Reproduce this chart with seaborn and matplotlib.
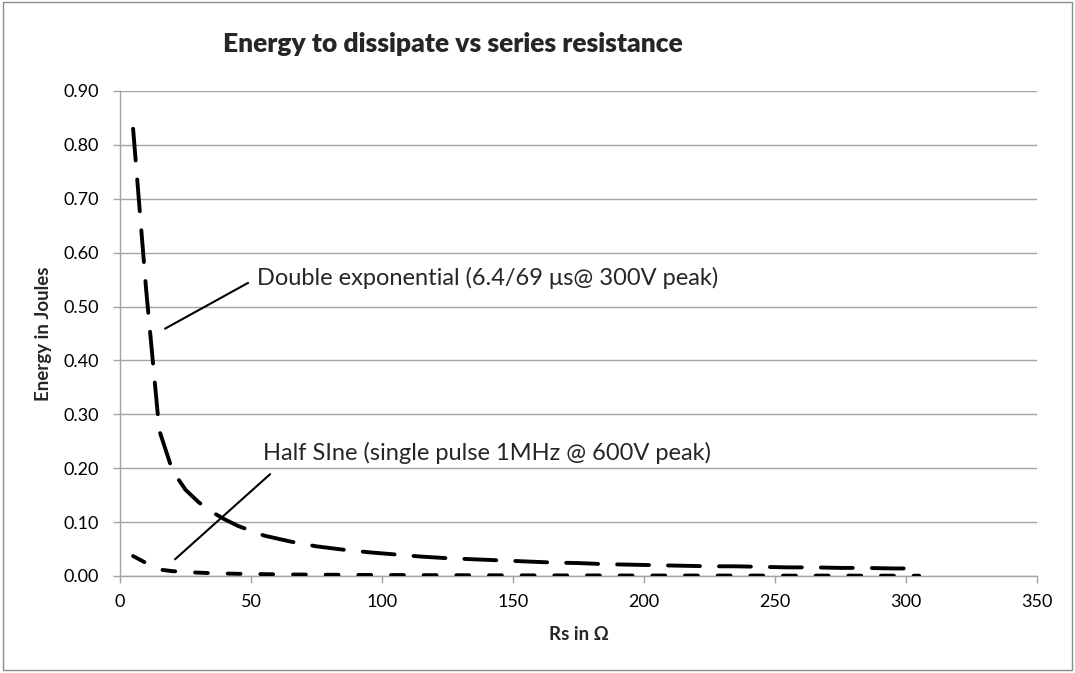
import matplotlib
matplotlib.use("Agg")
import matplotlib.pyplot as plt
import seaborn as sns
import pandas as pd
from matplotlib.patches import Rectangle

# ---- data ----
rs_ohm = [5, 10, 15, 20, 25, 30, 35, 40, 45, 55, 65, 75, 85, 95, 105, 115, 125, 135, 145, 155,
          165, 175, 185, 195, 205, 215, 225, 235, 245, 255, 265, 275, 285, 295, 305]
double_exp = [0.830, 0.530, 0.270, 0.196, 0.160, 0.137, 0.119, 0.105, 0.093, 0.075,
              0.064, 0.055, 0.049, 0.044,
              0.040, 0.036, 0.033, 0.031, 0.029, 0.027, 0.025, 0.024, 0.022, 0.021,
              0.020, 0.019, 0.018, 0.018, 0.017, 0.016, 0.016, 0.015, 0.015, 0.014, 0.014]
half_sine = [0.0370, 0.0240, 0.0120, 0.0090, 0.0074, 0.0062, 0.0053, 0.0046, 0.0041,
             0.0034, 0.0028, 0.0025, 0.0022,
             0.0019, 0.0018, 0.0016, 0.0015, 0.0014, 0.0013, 0.0012, 0.0011, 0.0011,
             0.0010, 0.0009, 0.0009, 0.0009, 0.0008, 0.0008, 0.0008, 0.0007, 0.0007,
             0.0007, 0.0006, 0.0006, 0.0006]
series_names = ["Double exponential", "Half sine"]
x_ticks = [0, 50, 100, 150, 200, 250, 300, 350]
y_ticks = [0.0, 0.1, 0.2, 0.3, 0.4, 0.5, 0.6, 0.7, 0.8, 0.9]

df = pd.concat([
    pd.DataFrame({"Rs": rs_ohm, "Energy": double_exp, "series": series_names[0]}),
    pd.DataFrame({"Rs": rs_ohm, "Energy": half_sine, "series": series_names[1]}),
], ignore_index=True)

sns.set_style("white")
plt.rcParams["font.family"] = ["Lato", "DejaVu Sans"]
plt.rcParams["lines.dash_capstyle"] = "round"
plt.rcParams["lines.solid_capstyle"] = "round"
plt.rcParams["lines.solid_joinstyle"] = "round"
plt.rcParams["lines.dash_joinstyle"] = "round"

W, H = 1075, 673
fig = plt.figure(figsize=(W / 100, H / 100), dpi=100)
L, R, T, B = 120, 1037, 91, 576
ax = fig.add_axes([L / W, 1 - B / H, (R - L) / W, (B - T) / H])

grid_c = "#a3a3a3"
sns.lineplot(data=df, x="Rs", y="Energy", hue="series", style="series",
             palette={series_names[0]: "black", series_names[1]: "black"},
             dashes={series_names[0]: (8.2, 4.9), series_names[1]: (3.3, 5.1)},
             linewidth=2.8, legend=False, ax=ax, zorder=3)

ax.set_xlim(0, 350)
ax.set_ylim(0, 0.9)
ax.set_xticks(x_ticks)
ax.set_yticks(y_ticks)
ax.set_yticklabels([f"{v:.2f}" for v in y_ticks])
ax.yaxis.grid(True, color=grid_c, lw=1.0)
ax.xaxis.grid(False)
for s in ["top", "right"]:
    ax.spines[s].set_visible(False)
for s in ["left", "bottom"]:
    ax.spines[s].set_color(grid_c)
    ax.spines[s].set_linewidth(1.0)
ax.tick_params(axis="both", which="major", direction="out", length=5,
               width=1.0, color=grid_c, labelsize=13, labelcolor="black")
ax.tick_params(axis="y", pad=10, left=True)
ax.tick_params(axis="x", pad=8, bottom=True)

ax.set_xlabel("Rs in Ω", fontsize=13.5, fontweight="bold", va="center")
ax.xaxis.set_label_coords(0.5, (B - 635) / (B - T))
ax.set_ylabel("Energy in Joules", fontsize=13.5, fontweight="bold", va="center")
ax.yaxis.set_label_coords((44 - L) / (R - L), 0.5)

fig.text(453 / W, 1 - 44 / H, "Energy to dissipate vs series resistance",
         ha="center", va="center", fontsize=19, fontweight="heavy")

# annotations
ax.annotate("", xy=(17.2, 0.459), xytext=(48.9, 0.544),
            arrowprops=dict(arrowstyle="-", color="black", lw=1.5, shrinkA=0, shrinkB=0))
ax.text(52.3, 0.554, "Double exponential (6.4/69 μs@ 300V peak)", fontsize=17,
        ha="left", va="center")
ax.annotate("", xy=(21.0, 0.031), xytext=(57.3, 0.189),
            arrowprops=dict(arrowstyle="-", color="black", lw=1.5, shrinkA=0, shrinkB=0))
ax.text(54.6, 0.228, "Half SIne (single pulse 1MHz @ 600V peak)", fontsize=17,
        ha="left", va="center")

fig.patches.append(Rectangle((3 / W, 3 / H), (W - 6) / W, (H - 5) / H,
                             transform=fig.transFigure, fill=False,
                             edgecolor="#8c8c8c", lw=1.0))

fig.savefig("out.png", dpi=100)
